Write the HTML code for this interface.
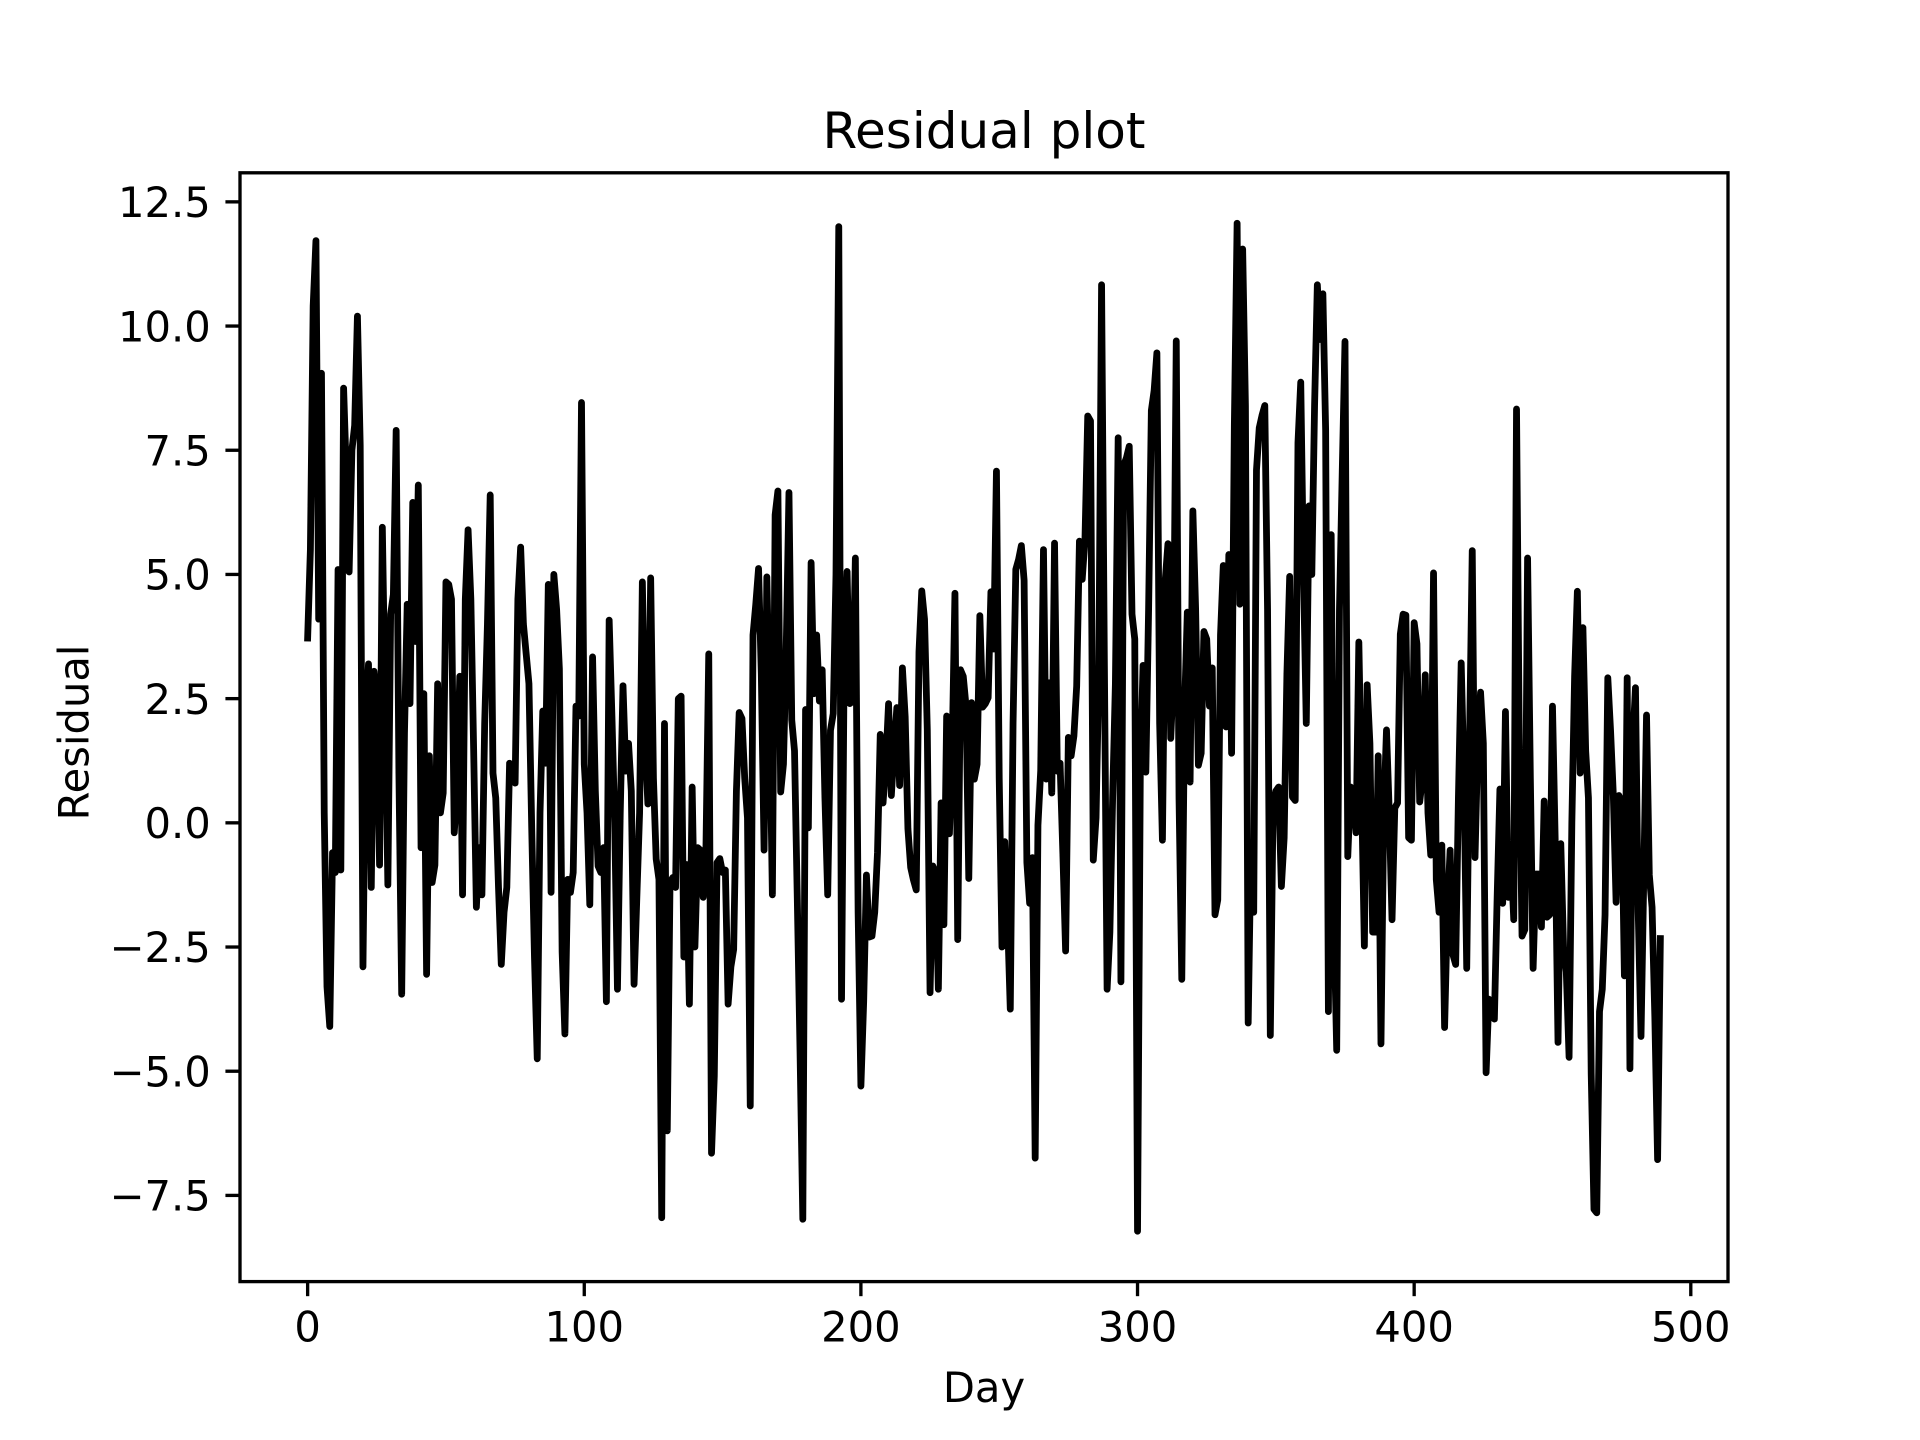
<!DOCTYPE html>
<html lang="en">
<head>
<meta charset="utf-8">
<title>Residual plot</title>
<style>
  html, body { margin: 0; padding: 0; background: #fff; }
  svg { display: block; }
  text { font-family: "DejaVu Sans", "Liberation Sans", sans-serif; fill: #000; }
</style>
</head>
<body>
<svg id="chart" xmlns="http://www.w3.org/2000/svg" width="1920" height="1440" viewBox="0 0 1920 1440">
  <rect x="0" y="0" width="1920" height="1440" fill="#fff"/>
  <rect x="240" y="172.8" width="1488" height="1108.8" fill="#fff"/>
  <g id="series"></g>
  <g id="ticks"></g>
  <rect x="240" y="172.8" width="1488" height="1108.8" fill="none" stroke="#000" stroke-width="3.33"/>
  <text x="984" y="147.8" font-size="50" text-anchor="middle">Residual plot</text>
  <text x="984" y="1402" font-size="41.67" text-anchor="middle">Day</text>
  <text x="0" y="0" font-size="41.67" text-anchor="middle" transform="translate(88.5 732.5) rotate(-90)">Residual</text>
</svg>
<script>
const residuals = [
  3.72,5.5,10.4,11.72,4.1,9.05,0.2,-3.3,-4.1,-0.6,
  -1.0,5.1,-0.95,8.75,7.0,5.05,7.5,8.0,10.2,7.6,
  -2.9,2.0,3.2,-1.3,3.05,2.5,-0.85,5.95,2.5,-1.25,
  4.2,4.6,7.9,1.0,-3.45,1.8,4.4,2.4,6.45,3.65,
  6.8,-0.5,2.6,-3.05,1.35,-1.2,-0.85,2.8,0.2,0.6,
  4.85,4.8,4.5,-0.2,0.7,2.95,-1.45,4.5,5.9,4.5,
  1.5,-1.7,-0.5,-1.45,2.0,4.0,6.6,1.0,0.5,-1.3,
  -2.85,-1.8,-1.3,1.2,1.1,0.8,4.5,5.55,4.0,3.4,
  2.8,-0.1,-2.7,-4.75,0.2,2.25,1.2,4.8,-1.4,5.0,
  4.3,3.1,-2.6,-4.25,-1.14,-1.4,-1.0,2.35,2.15,8.46,
  1.18,0.2,-1.65,3.34,0.64,-0.87,-1.0,-0.5,-3.6,4.08,
  2.14,0.0,-3.35,0.2,2.76,1.04,1.6,0.64,-3.25,-1.5,
  0.2,4.85,1.6,0.38,4.93,0.9,-0.73,-1.14,-7.95,2.0,
  -6.2,-1.2,-1.1,-1.3,2.5,2.55,-2.7,-0.84,-3.65,0.72,
  -2.5,-0.5,-0.55,-1.5,-0.46,3.4,-6.65,-5.1,-0.8,-0.72,
  -1.0,-0.95,-3.65,-2.9,-2.55,0.64,2.22,2.1,0.9,0.1,
  -5.7,3.78,4.4,5.12,3.0,-0.55,4.95,2.2,-1.45,6.2,
  6.68,0.62,1.18,3.5,6.65,2.07,1.45,-1.5,-4.6,-7.98,
  2.28,-0.1,5.24,2.6,3.78,2.45,3.08,0.5,-1.45,1.86,
  2.2,5.0,12.0,-3.55,3.6,5.06,2.4,2.45,5.33,-1.8,
  -5.3,-3.6,-1.05,-2.3,-2.28,-1.8,-0.6,1.78,0.4,1.2,
  2.4,0.55,1.5,2.32,0.75,3.12,2.14,-0.12,-0.9,-1.15,
  -1.35,3.44,4.67,4.1,1.87,-3.42,-0.87,-1.0,-3.35,0.4,
  -2.05,2.15,-0.22,1.5,4.62,-2.35,3.08,2.95,2.35,-1.12,
  2.42,0.88,1.18,4.17,2.33,2.4,2.52,4.65,3.5,7.08,
  0.9,-2.5,-0.38,-1.9,-3.75,2.0,5.1,5.3,5.58,4.88,
  -0.8,-1.62,-0.7,-6.75,-0.05,1.05,5.5,0.88,2.82,0.6,
  5.63,1.04,1.2,-0.6,-2.58,1.72,1.35,1.75,2.75,5.67,
  4.9,5.7,8.19,8.09,-0.75,0.1,3.0,10.83,3.3,-3.35,
  -2.2,0.5,2.8,7.75,-3.2,7.2,7.35,7.58,4.2,3.7,
  -8.22,1.04,3.17,1.02,4.3,8.3,8.7,9.46,2.0,-0.35,
  4.87,5.62,1.7,2.96,9.7,0.5,-3.15,2.3,4.24,0.82,
  6.28,4.3,1.16,1.4,3.85,3.7,2.35,3.12,-1.85,-1.55,
  3.78,5.18,1.93,5.4,1.4,8.0,12.07,4.4,11.55,8.4,
  -4.03,-0.46,-1.8,7.1,7.95,8.2,8.4,4.3,-4.28,0.36,
  0.64,0.72,-1.28,-0.3,3.0,4.96,0.52,0.45,7.65,8.87,
  5.0,2.0,6.38,5.0,8.4,10.83,9.73,10.65,7.9,-3.8,
  5.8,-2.0,-4.58,4.3,7.06,9.69,-0.68,0.72,0.6,-0.2,
  3.64,0.6,-2.48,2.78,1.6,-2.2,-2.2,1.35,-4.45,0.2,
  1.87,0.2,-1.95,0.3,0.4,3.8,4.2,4.18,-0.3,-0.35,
  4.03,3.6,0.42,0.9,2.98,0.2,-0.65,5.03,-1.14,-1.8,
  -0.45,-4.12,-1.8,-0.55,-2.65,-2.85,0.5,3.22,0.9,-2.93,
  1.6,5.48,-0.7,1.6,2.63,1.6,-5.03,-3.55,-3.6,-3.95,
  -1.5,0.68,-1.62,2.24,-1.5,-0.67,-1.95,8.33,1.6,-2.28,
  -2.15,5.33,0.9,-2.93,-1.03,-1.03,-2.1,0.44,-1.9,-1.85,
  2.35,-0.4,-4.42,-0.42,-2.5,-3.0,-4.72,0.0,2.95,4.66,
  1.0,3.93,1.45,0.5,-5.05,-7.78,-7.85,-3.8,-3.35,-1.85,
  2.92,1.85,0.55,-1.6,0.55,0.43,-3.08,2.92,-4.95,1.6,
  2.72,-1.8,-4.3,-1.1,2.17,-1.05,-1.7,-3.9,-6.78,-2.33
];
const xTicks = [0, 100, 200, 300, 400, 500];
const yTicks = [-7.5, -5, -2.5, 0, 2.5, 5, 7.5, 10, 12.5];

const NS = 'http://www.w3.org/2000/svg';
const plot = { left: 240, right: 1728, top: 172.8, bottom: 1281.6 };
const xDomain = [-24.45, 513.45];
const yDomain = [-9.235, 13.085];

function xScale(v) {
  return plot.left + (v - xDomain[0]) / (xDomain[1] - xDomain[0]) * (plot.right - plot.left);
}
function yScale(v) {
  return plot.bottom - (v - yDomain[0]) / (yDomain[1] - yDomain[0]) * (plot.bottom - plot.top);
}
function formatY(v) {
  return v.toFixed(1).replace('-', '\u2212');
}

const seriesGroup = document.getElementById('series');
const line = document.createElementNS(NS, 'polyline');


line.setAttribute('points', residuals.map((v, i) => xScale(i).toFixed(2) + ',' + yScale(v).toFixed(2)).join(' '));
line.setAttribute('fill', 'none');
line.setAttribute('stroke', '#000');
line.setAttribute('stroke-width', '6.8');
line.setAttribute('stroke-linejoin', 'round');
line.setAttribute('stroke-linecap', 'square');
seriesGroup.appendChild(line);

const tickGroup = document.getElementById('ticks');
xTicks.forEach(function (t) {
  const x = xScale(t);
  const mark = document.createElementNS(NS, 'line');
  
  
  mark.setAttribute('x1', x);
  mark.setAttribute('x2', x);
  mark.setAttribute('y1', plot.bottom);
  mark.setAttribute('y2', plot.bottom + 14.58);
  mark.setAttribute('stroke', '#000');
  mark.setAttribute('stroke-width', '3.33');
  tickGroup.appendChild(mark);
  const label = document.createElementNS(NS, 'text');
  
  
  label.setAttribute('x', x);
  label.setAttribute('y', plot.bottom + 60);
  label.setAttribute('font-size', '41.67');
  label.setAttribute('text-anchor', 'middle');
  label.textContent = String(t);
  tickGroup.appendChild(label);
});
yTicks.forEach(function (t) {
  const y = yScale(t);
  const mark = document.createElementNS(NS, 'line');
  
  
  mark.setAttribute('x1', plot.left - 14.58);
  mark.setAttribute('x2', plot.left);
  mark.setAttribute('y1', y);
  mark.setAttribute('y2', y);
  mark.setAttribute('stroke', '#000');
  mark.setAttribute('stroke-width', '3.33');
  tickGroup.appendChild(mark);
  const label = document.createElementNS(NS, 'text');
  
  
  label.setAttribute('x', plot.left - 29.2);
  label.setAttribute('y', y + 15.2);
  label.setAttribute('font-size', '41.67');
  label.setAttribute('text-anchor', 'end');
  label.textContent = formatY(t);
  tickGroup.appendChild(label);
});
</script>
</body>
</html>
